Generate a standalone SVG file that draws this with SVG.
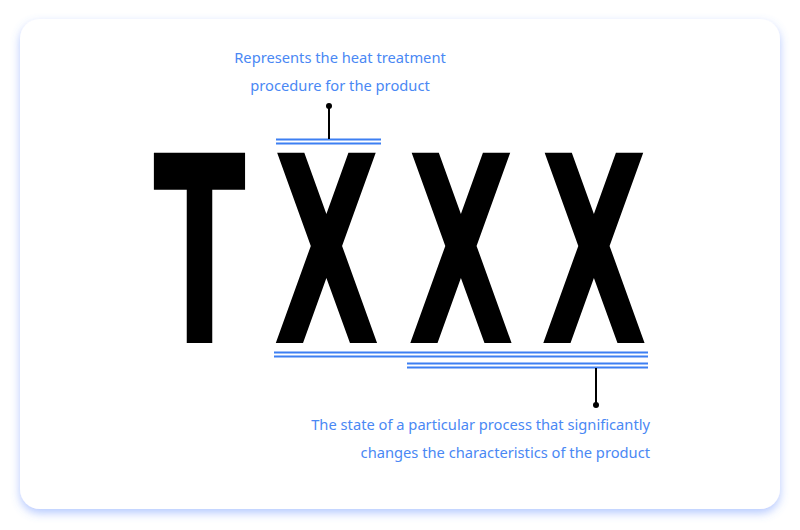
<svg xmlns="http://www.w3.org/2000/svg" width="800" height="530" viewBox="0 0 800 530">
<defs>
<filter id="sh" x="-10%" y="-10%" width="120%" height="125%">
<feDropShadow dx="0" dy="4" stdDeviation="5" flood-color="#5a86ff" flood-opacity="0.45"/>
</filter>
<style>
.big{font-family:"DejaVu Sans",sans-serif;font-weight:bold;font-size:261px;fill:#000;text-anchor:middle}
.lbl{font-family:"Noto Sans",sans-serif;font-weight:400;font-size:14.7px;fill:#4a88f4}
.bl{stroke:#3d7ff2;stroke-width:2;fill:none}
.ld{stroke:#000;stroke-width:2;fill:none}
</style>
</defs>
<rect x="0" y="0" width="800" height="530" fill="#fff"/>
<rect id="card" x="20" y="19" width="760" height="490" rx="20" fill="#fff" filter="url(#sh)"/>
<g id="code">
<text class="big" transform="translate(199.5,343) scale(0.52,1)">T</text>
<text class="big" transform="translate(326.5,343) scale(0.53,1)">X</text>
<text class="big" transform="translate(461,343) scale(0.53,1)">X</text>
<text class="big" transform="translate(594,343) scale(0.53,1)">X</text>
</g>
<g id="connectors">
<line class="bl" x1="276" y1="139.5" x2="381" y2="139.5"/>
<line class="bl" x1="276" y1="143.5" x2="381" y2="143.5"/>
<line class="ld" x1="329" y1="106" x2="329" y2="139"/>
<circle cx="329" cy="106" r="3" fill="#000"/>
<line class="bl" x1="274" y1="352.5" x2="648" y2="352.5"/>
<line class="bl" x1="274" y1="356.5" x2="648" y2="356.5"/>
<line class="bl" x1="407" y1="363.5" x2="648" y2="363.5"/>
<line class="bl" x1="407" y1="367.5" x2="648" y2="367.5"/>
<line class="ld" x1="596" y1="368" x2="596" y2="405"/>
<circle cx="596" cy="405" r="3" fill="#000"/>
</g>
<g id="label-top">
<text class="lbl" x="340" y="63" text-anchor="middle">Represents the heat treatment</text>
<text class="lbl" x="340" y="91" text-anchor="middle">procedure for the product</text>
</g>
<g id="label-bottom">
<text class="lbl" x="650" y="430" text-anchor="end">The state of a particular process that significantly</text>
<text class="lbl" x="650" y="458" text-anchor="end">changes the characteristics of the product</text>
</g>
</svg>
